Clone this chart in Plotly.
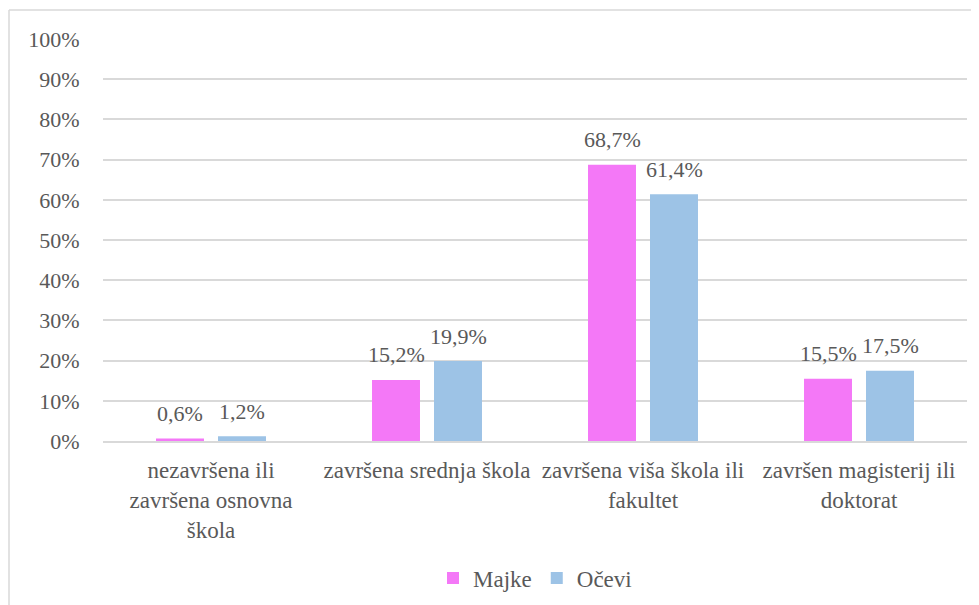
import plotly.graph_objects as go

categories = ["nezavršena ili<br>završena osnovna<br>škola", "završena srednja škola",
              "završena viša škola ili<br>fakultet", "završen magisterij ili<br>doktorat"]
majke = [0.6, 15.2, 68.7, 15.5]
ocevi = [1.2, 19.9, 61.4, 17.5]
majke_labels = ["0,6%", "15,2%", "68,7%", "15,5%"]
ocevi_labels = ["1,2%", "19,9%", "61,4%", "17,5%"]
tick_vals = [0, 10, 20, 30, 40, 50, 60, 70, 80, 90, 100]
tick_text = ["0%", "10%", "20%", "30%", "40%", "50%", "60%", "70%", "80%", "90%", "100%"]

OFF = 8  # page body margin
W, H = 979, 605
L, R, T = 103 - OFF, 979 - 967 + OFF, 39 - OFF
B = H - (441 - OFF)
pw, ph = W - L - R, H - T - B

FAM = "'Times New Roman', 'Liberation Serif', 'DejaVu Serif', serif"
font = dict(family=FAM, size=23, color="#595959")
tickfont = dict(family=FAM, size=22, color="#595959")

fig = go.Figure()
fig.add_trace(go.Bar(name="Majke", x=categories, y=majke,
                     marker=dict(color="#F478F7", line=dict(width=0))))
fig.add_trace(go.Bar(name="Očevi", x=categories, y=ocevi,
                     marker=dict(color="#9DC3E6", line=dict(width=0))))

# data labels as annotations anchored to the bars through the axes
for vals, labels, shift in ((majke, majke_labels, -31), (ocevi, ocevi_labels, 31)):
    for c, v, t in zip(categories, vals, labels):
        fig.add_annotation(x=c, y=v, xref="x", yref="y", text=t, showarrow=False,
                           xshift=shift, yshift=25, yanchor="middle", xanchor="center",
                           font=tickfont)

def px_x(p):
    return (p - OFF - L) / pw

def px_y(p):
    return (H - B - (p - OFF)) / ph

shapes = [
    dict(type="line", xref="paper", yref="paper", x0=px_x(9), x1=px_x(990), y0=px_y(10), y1=px_y(10),
         line=dict(color="#D9D9D9", width=1.5)),
    dict(type="line", xref="paper", yref="paper", x0=px_x(9), x1=px_x(9), y0=px_y(10), y1=px_y(620),
         line=dict(color="#D9D9D9", width=1.5)),
]

fig.update_layout(
    width=W, height=H,
    margin=dict(l=L, r=R, t=T, b=B, autoexpand=False),
    paper_bgcolor="white", plot_bgcolor="white",
    barmode="group", bargap=0.426, bargroupgap=0.226,
    font=font,
    shapes=shapes,
    showlegend=True,
    legend=dict(orientation="h", x=0.5, xanchor="center", y=px_y(578), yanchor="middle",
                font=font, traceorder="normal", itemwidth=30),
    xaxis=dict(tickfont=font, showline=True, linecolor="#D9D9D9", linewidth=1.5,
               ticks="outside", ticklen=8, tickcolor="rgba(0,0,0,0)", tickangle=0, showgrid=False),
    yaxis=dict(range=[0, 100], tickvals=tick_vals, ticktext=tick_text, tickfont=tickfont,
               showgrid=True, gridcolor="#D9D9D9", gridwidth=1.5, zeroline=False,
               ticks="outside", ticklen=18, tickcolor="rgba(0,0,0,0)", showline=False),
)

fig.write_html("out.html")
